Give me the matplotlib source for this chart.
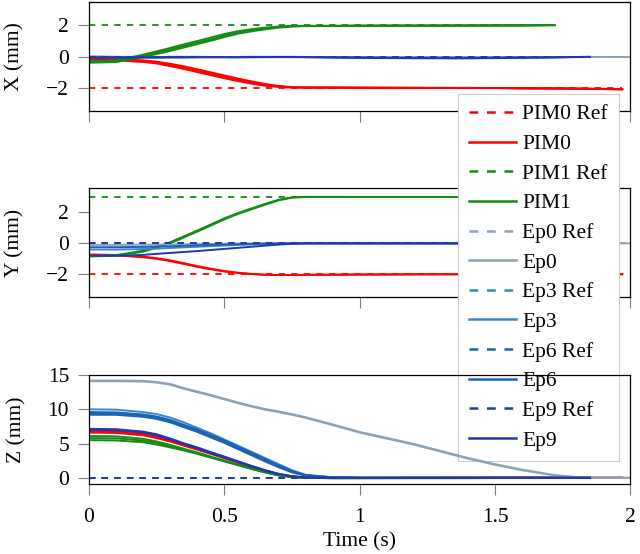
import numpy as np
import matplotlib.pyplot as plt

plt.rcParams['font.family'] = ['Liberation Serif', 'DejaVu Serif']
plt.rcParams['font.size'] = 15.5

nan = np.nan

# time samples (s)
time = [0, 0.1, 0.2, 0.25, 0.3, 0.35, 0.4, 0.45, 0.5, 0.55, 0.6, 0.65, 0.7, 0.75,
        0.8, 0.9, 1.0, 1.2, 1.4, 1.5, 1.6, 1.72, 1.8, 1.85, 1.9, 1.97, 2.0]

# ---- X (mm) ----
pim0_x = [
    [-0.15, -0.2, -0.3, -0.4, -0.55, -0.72, -0.9, -1.1, -1.3, -1.5, -1.68, -1.82, -1.93, -1.98,
     -2.0, -2.0, -2.02, -2.02, -2.03, -2.03, -2.05, -2.06, -2.07, -2.08, -2.1, -2.1, nan],
    [-0.1, -0.15, -0.25, -0.33, -0.47, -0.63, -0.82, -1.02, -1.22, -1.42, -1.6, -1.77, -1.9, -1.97,
     -2.0, -2.0, -2.0, -2.02, -2.02, -2.03, -2.04, -2.05, -2.06, -2.08, -2.08, -2.12, nan],
    [-0.2, -0.25, -0.35, -0.45, -0.62, -0.8, -1.0, -1.2, -1.4, -1.58, -1.75, -1.88, -1.96, -2.0,
     -2.0, -2.01, -2.02, -2.02, -2.04, -2.04, -2.06, -2.07, -2.08, -2.09, -2.1, -2.12, nan],
]
pim1_x = [
    [-0.35, -0.32, 0.05, 0.25, 0.45, 0.68, 0.9, 1.1, 1.35, 1.55, 1.68, 1.8, 1.9, 1.96,
     1.97, 1.97, 1.98, 1.98, 2.0, 2.0, 2.0, 2.02, nan, nan, nan, nan, nan],
    [-0.3, -0.25, 0.12, 0.33, 0.55, 0.78, 1.0, 1.22, 1.45, 1.63, 1.76, 1.86, 1.93, 1.97,
     1.98, 1.98, 1.99, 2.0, 2.0, 2.01, 2.01, 2.03, nan, nan, nan, nan, nan],
    [-0.4, -0.36, -0.02, 0.16, 0.36, 0.58, 0.8, 1.02, 1.25, 1.47, 1.62, 1.75, 1.86, 1.93,
     1.96, 1.97, 1.98, 1.99, 1.99, 2.0, 2.01, 2.02, nan, nan, nan, nan, nan],
]
ep0_x = [0.0, 0.0, 0.0, 0.0, 0.0, 0.0, 0.0, 0.0, 0.0, 0.0, 0.0, 0.0, 0.0, 0.0,
         0.0, 0.0, 0.0, 0.0, 0.0, 0.0, 0.0, 0.0, 0.0, 0.0, 0.0, 0.0, 0.0]
ep3_x = [-0.05, -0.05, -0.06, -0.06, -0.05, -0.05, -0.04, -0.04, -0.04, -0.05, -0.05, -0.04, -0.03, -0.03,
         -0.03, -0.04, -0.06, -0.08, -0.08, -0.07, -0.06, -0.04, -0.03, -0.02, nan, nan, nan]
ep6_x = [0.0, -0.02, -0.03, -0.03, -0.02, -0.02, -0.02, -0.03, -0.03, -0.03, -0.02, -0.02, -0.02, -0.02,
         -0.03, -0.05, -0.07, -0.1, -0.1, -0.09, -0.07, -0.05, -0.03, -0.02, nan, nan, nan]
ep9_x = [-0.08, -0.08, -0.07, -0.07, -0.06, -0.06, -0.05, -0.05, -0.05, -0.05, -0.04, -0.04, -0.04, -0.04,
         -0.05, -0.07, -0.09, -0.11, -0.12, -0.1, -0.08, -0.06, -0.04, -0.03, nan, nan, nan]

# ---- Y (mm) ----
pim0_y = [
    [-0.75, -0.78, -0.9, -1.0, -1.15, -1.33, -1.52, -1.68, -1.82, -1.92, -1.99, -2.04, -2.05, -2.05,
     -2.04, -2.03, -2.02, -2.01, -2.0, -2.0, -2.0, -2.0, -2.0, -2.0, -2.0, -2.0, nan],
    [-0.72, -0.75, -0.86, -0.96, -1.1, -1.28, -1.47, -1.64, -1.79, -1.9, -1.98, -2.03, -2.05, -2.05,
     -2.04, -2.03, -2.02, -2.01, -2.0, -2.0, -2.0, -2.0, -2.0, -2.0, -2.0, -2.0, nan],
]
pim1_y = [
    [-0.85, -0.8, -0.54, -0.28, 0.0, 0.38, 0.76, 1.15, 1.55, 1.9, 2.2, 2.5, 2.78, 2.96,
     3.0, 3.0, 3.0, 3.0, 3.0, 3.0, 3.0, 3.0, nan, nan, nan, nan, nan],
    [-0.82, -0.76, -0.48, -0.22, 0.07, 0.45, 0.83, 1.22, 1.62, 1.96, 2.26, 2.55, 2.82, 2.98,
     3.01, 3.01, 3.0, 3.0, 3.0, 3.0, 3.0, 3.0, nan, nan, nan, nan, nan],
]
ep0_y = [-0.1, -0.1, -0.09, -0.08, -0.07, -0.06, -0.05, -0.04, -0.03, -0.02, -0.01, 0.0, 0.0, 0.0,
         0.0, 0.0, 0.0, 0.0, 0.0, 0.0, 0.0, 0.0, 0.0, 0.0, 0.0, 0.0, 0.0]
ep3_y = [-0.4, -0.4, -0.37, -0.34, -0.3, -0.26, -0.22, -0.18, -0.14, -0.1, -0.07, -0.04, -0.02, -0.01,
         0.0, 0.0, 0.0, 0.0, 0.0, 0.0, 0.0, 0.0, 0.0, 0.0, nan, nan, nan]
ep6_y = [-0.25, -0.25, -0.23, -0.21, -0.19, -0.16, -0.13, -0.1, -0.08, -0.06, -0.04, -0.02, -0.01, 0.0,
         0.0, 0.0, 0.0, 0.0, 0.0, 0.0, 0.0, 0.0, 0.0, 0.0, nan, nan, nan]
ep9_y = [-0.8, -0.8, -0.75, -0.68, -0.62, -0.56, -0.5, -0.43, -0.36, -0.29, -0.22, -0.15, -0.08, -0.03,
         0.0, 0.0, 0.0, 0.0, 0.0, 0.0, 0.0, 0.0, 0.0, 0.0, nan, nan, nan]

# ---- Z (mm) ----
pim0_z = [
    [6.6, 6.55, 6.2, 5.8, 5.3, 4.7, 4.1, 3.5, 2.85, 2.2, 1.6, 1.0, 0.5, 0.2,
     0.05, 0.0, 0.0, 0.02, 0.03, 0.03, 0.03, 0.02, 0.02, 0.02, 0.02, 0.02, nan],
    [6.8, 6.75, 6.4, 6.0, 5.5, 4.9, 4.3, 3.65, 3.0, 2.35, 1.7, 1.1, 0.55, 0.22,
     0.06, 0.0, 0.0, 0.02, 0.03, 0.03, 0.03, 0.02, 0.02, 0.02, 0.02, 0.02, nan],
]
pim1_z = [
    [6.1, 6.05, 5.7, 5.3, 4.8, 4.25, 3.7, 3.1, 2.5, 1.9, 1.35, 0.85, 0.4, 0.12,
     0.0, -0.05, -0.05, -0.04, -0.04, -0.03, -0.03, -0.03, nan, nan, nan, nan, nan],
    [5.5, 5.45, 5.2, 4.85, 4.45, 4.0, 3.5, 2.95, 2.4, 1.85, 1.3, 0.8, 0.35, 0.1,
     0.0, -0.05, -0.05, -0.04, -0.04, -0.03, -0.03, -0.03, nan, nan, nan, nan, nan],
    [5.8, 5.75, 5.45, 5.1, 4.6, 4.1, 3.6, 3.0, 2.45, 1.9, 1.32, 0.82, 0.38, 0.1,
     0.0, -0.05, -0.05, -0.04, -0.04, -0.03, -0.03, -0.03, nan, nan, nan, nan, nan],
]
ep0_z = [
    [14.2, 14.2, 14.15, 14.0, 13.7, 13.1, 12.6, 12.1, 11.55, 11.0, 10.5, 10.05, 9.7, 9.3,
     8.85, 7.8, 6.7, 4.95, 2.9, 2.0, 1.2, 0.4, 0.1, 0.02, 0.0, 0.0, 0.0],
    [14.1, 14.1, 14.05, 13.9, 13.6, 13.0, 12.5, 12.0, 11.45, 10.9, 10.4, 9.95, 9.6, 9.2,
     8.75, 7.7, 6.6, 4.85, 2.8, 1.9, 1.1, 0.35, 0.08, 0.02, 0.0, 0.0, 0.0],
]
ep3_z = [10.0, 9.95, 9.6, 9.3, 8.8, 8.1, 7.3, 6.5, 5.6, 4.7, 3.8, 2.9, 2.0, 1.1,
         0.45, 0.08, 0.0, 0.0, 0.0, 0.0, 0.0, 0.0, 0.0, 0.0, nan, nan, nan]
ep6_z = [
    [9.4, 9.4, 9.1, 8.8, 8.3, 7.6, 6.9, 6.1, 5.3, 4.4, 3.5, 2.6, 1.7, 0.9,
     0.35, 0.05, 0.0, 0.0, 0.0, 0.0, 0.0, 0.0, 0.0, 0.0, nan, nan, nan],
    [9.2, 9.2, 8.9, 8.6, 8.1, 7.4, 6.7, 5.9, 5.1, 4.2, 3.3, 2.4, 1.55, 0.8,
     0.3, 0.04, 0.0, 0.0, 0.0, 0.0, 0.0, 0.0, 0.0, 0.0, nan, nan, nan],
    [9.6, 9.55, 9.25, 8.95, 8.45, 7.75, 7.05, 6.25, 5.45, 4.55, 3.65, 2.75, 1.85, 1.0,
     0.4, 0.06, 0.0, 0.0, 0.0, 0.0, 0.0, 0.0, 0.0, 0.0, nan, nan, nan],
]
ep9_z = [
    [7.0, 6.95, 6.6, 6.2, 5.6, 4.9, 4.3, 3.6, 2.95, 2.3, 1.65, 1.05, 0.55, 0.2,
     0.05, 0.0, 0.0, 0.0, 0.0, 0.0, 0.0, 0.0, 0.0, 0.0, nan, nan, nan],
    [7.15, 7.1, 6.75, 6.35, 5.75, 5.05, 4.45, 3.75, 3.1, 2.42, 1.75, 1.12, 0.6, 0.22,
     0.06, 0.0, 0.0, 0.0, 0.0, 0.0, 0.0, 0.0, 0.0, 0.0, nan, nan, nan],
]

# references per axis: (PIM0, PIM1, Ep0, Ep3, Ep6, Ep9)
ref_x = [-2, 2, 0, 0, 0, 0]
ref_y = [-2, 3, 0, 0, 0, 0]
ref_z = [0, 0, 0, 0, 0, 0]
ref_end = [1.97, 1.72, 2.0, 1.85, 1.85, 1.85]

names = ['PIM0', 'PIM1', 'Ep0', 'Ep3', 'Ep6', 'Ep9']
colors = ['#ff0000', '#128c12', '#8aa2b8', '#3f84c8', '#1a62b4', '#2236ae']

t = np.array(time)

fig = plt.figure(figsize=(6.4, 5.54), dpi=100)
left, width = 0.139, 0.846
ax1 = fig.add_axes([left, 0.800, width, 0.196])
ax2 = fig.add_axes([left, 0.464, width, 0.196])
ax3 = fig.add_axes([left, 0.126, width, 0.197])
ax3.set_facecolor('none')


def runs(v):
    v = np.array(v, dtype=float)
    return v if v.ndim == 2 else v[None, :]


panels = [
    (ax1, [pim0_x, pim1_x, ep0_x, ep3_x, ep6_x, ep9_x], ref_x),
    (ax2, [pim0_y, pim1_y, ep0_y, ep3_y, ep6_y, ep9_y], ref_y),
    (ax3, [pim0_z, pim1_z, ep0_z, ep3_z, ep6_z, ep9_z], ref_z),
]

handles = []
for ax, series, refs in panels:
    handles = []
    for name, col, s, r, te in zip(names, colors, series, refs, ref_end):
        tr = t[t <= te + 1e-9]
        h_ref, = ax.plot(tr, np.full(len(tr), r), ls=(0, (3.5, 3.5)), lw=1.3, color=col,
                         label=name + ' Ref')
        h = None
        for run in runs(s):
            h, = ax.plot(t, run, lw=1.4, color=col, label=name)
        handles += [h_ref, h]

for ax in (ax1, ax2, ax3):
    ax.set_xlim(0, 2)
    ax.set_xticks([0, 0.5, 1, 1.5, 2])
    ax.tick_params(direction='out', length=7.8, width=0.8, color='#808080',
                   top=False, right=False)
    ax.tick_params(axis='y', pad=6.5)
    ax.tick_params(axis='x', pad=9)
    for sp in ax.spines.values():
        sp.set_linewidth(0.9)

ax1.set_ylim(-3.5, 3.5)
ax1.set_yticks([-2, 0, 2])
ax1.set_xticklabels([])
ax1.set_ylabel('X (mm)', labelpad=15.5)

ax2.set_ylim(-3.47, 3.56)
ax2.set_yticks([-2, 0, 2])
ax2.set_xticklabels([])
ax2.set_ylabel('Y (mm)', labelpad=15.5)

ax3.set_ylim(-0.93, 15.0)
ax3.set_yticks([0, 5, 10, 15])
ax3.set_xticklabels(['0', '0.5', '1', '1.5', '2'])
ax3.set_ylabel('Z (mm)', labelpad=15.5)
ax3.set_xlabel('Time (s)', labelpad=4)

leg = ax2.legend(handles=handles, loc='upper left',
                 bbox_to_anchor=(0.716, 0.831), bbox_transform=fig.transFigure,
                 handlelength=2.17, handletextpad=0.31, labelspacing=0.445,
                 borderpad=0.5, borderaxespad=0, fancybox=False, framealpha=1,
                 edgecolor='#cccccc')
for line in leg.get_lines():
    line.set_linewidth(1.8)
leg.get_frame().set_linewidth(0.8)

fig.savefig('out.png', dpi=100)
